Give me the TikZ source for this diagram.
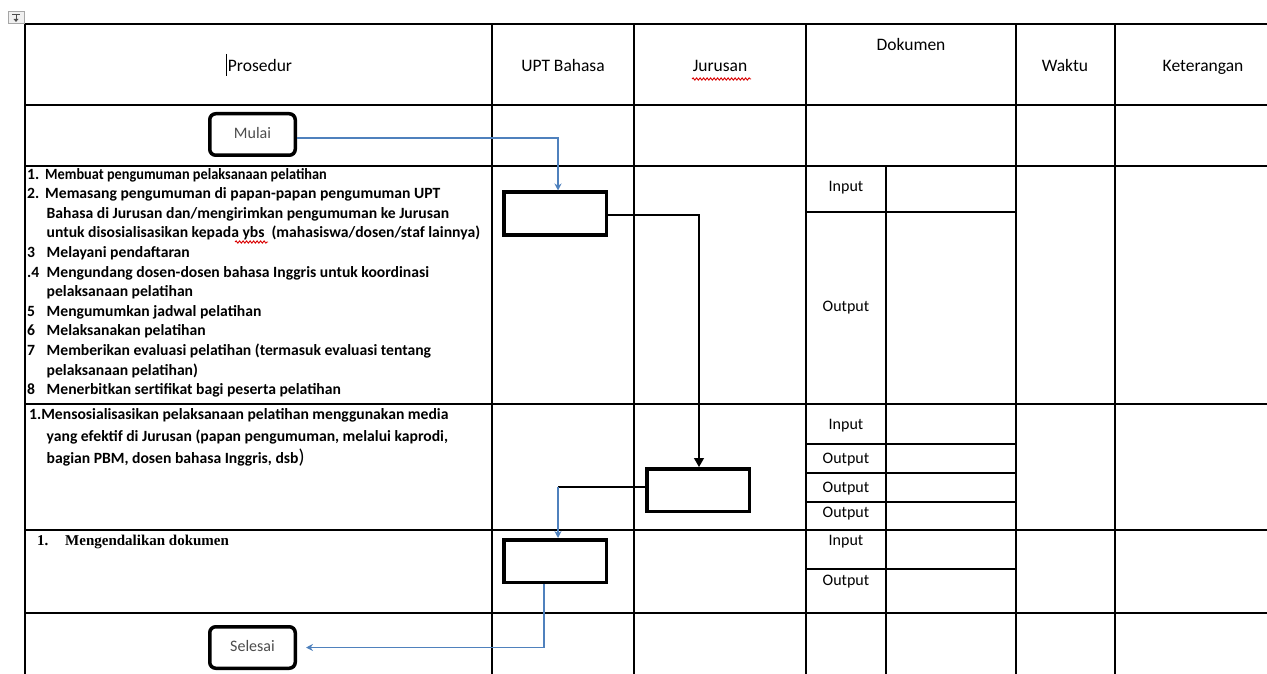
\documentclass[tikz,border=0pt]{standalone}
\usepackage{fontspec}
\setmainfont{Carlito}
\newfontfamily\timesf{Liberation Serif}
\usetikzlibrary{arrows.meta,decorations.pathmorphing}
\definecolor{flowblue}{RGB}{79,129,189}
\begin{document}
\begin{tikzpicture}[x=1pt,y=-1pt,
  gridline/.style={line width=1.4pt,black},
  hdr/.style={font=\fontsize{17.5}{20}\selectfont, inner sep=0pt, anchor=base},
  doclbl/.style={font=\fontsize{16}{18}\selectfont, inner sep=0pt, anchor=base},
  rowtxt/.style={font=\fontsize{15.65}{18}\selectfont\bfseries, inner sep=0pt, anchor=base west},
  sertxt/.style={font=\fontsize{15}{18}\selectfont\timesf\bfseries, inner sep=0pt, anchor=base west},
  termbox/.style={draw, line width=3.5pt, rounded corners=6pt, minimum width=85.5pt, minimum height=41.5pt, inner sep=0pt, text=black!70, font=\fontsize{16}{18}\selectfont},
  procbox/.style={draw, line width=3.5pt, minimum width=102.5pt, minimum height=42.5pt, inner sep=0pt},
  bluearrow/.style={flowblue, line width=1.2pt, -{Stealth[length=7pt,width=7pt]}},
  blackarrow/.style={black, line width=1.2pt, -{Triangle[length=9pt,width=10pt]}},
  blackline/.style={black, line width=1.2pt},
  squiggle/.style={red!85!black, line width=0.9pt, decorate, decoration={snake, amplitude=1.1pt, segment length=3.5pt}},
]
\useasboundingbox (0,0) rectangle (1267,674);
% move handle
\draw[gray!70, fill=gray!12, line width=0.6pt] (8,11) rectangle (24,23);
\draw[black!70, line width=0.8pt] (12,14) -- (20,14);
\draw[black!70, line width=0.8pt] (16,14) -- (16,21);
\fill[black!70] (13.5,19) -- (18.5,19) -- (16,22) -- cycle;

% table grid
\foreach \yy in {24,105,166,404,530,613}
  \draw[gridline] (25,\yy) -- (1267,\yy);
\foreach \xx in {25,492,634,806,1016,1115}
  \draw[gridline] (\xx,24) -- (\xx,674);
\draw[gridline] (886,166) -- (886,674);
\foreach \yy in {212,444,473,502,569}
  \draw[gridline] (806,\yy) -- (1016,\yy);

% header
\node[hdr] (hprosedur) at (260,72) {Prosedur};
\draw[black, line width=1pt] (226.5,54) -- (226.5,76);
\node[hdr] (hupt) at (563,72) {UPT Bahasa};
\node[hdr] (hjurusan) at (720,72) {Jurusan};
\draw[squiggle] (692,79) -- (751,79);
\node[hdr] (hdokumen) at (911,51) {Dokumen};
\node[hdr] (hwaktu) at (1065,72) {Waktu};
\node[hdr] (hket) at (1203,72) {Keterangan};

% row 1 text
\node[rowtxt] (r1a) at (27,179) {1.};
\node[rowtxt] (r1at) at (45,179) {\scalebox{0.914}[1]{Membuat pengumuman pelaksanaan pelatihan}};
\node[rowtxt] (r1b) at (27,198.6) {2.};
\node[rowtxt] (r1bt) at (45,198.6) {Memasang pengumuman di papan-papan pengumuman UPT};
\node[rowtxt] (r1c) at (46.5,218.2) {Bahasa di Jurusan dan/mengirimkan pengumuman ke Jurusan};
\node[rowtxt] (r1d) at (46.5,237.8) {untuk disosialisasikan kepada ybs\ \ (mahasiswa/dosen/staf lainnya)};
\draw[squiggle] (235,242) -- (268,242);
\node[rowtxt] (r1e) at (27,257.4) {3};
\node[rowtxt] (r1et) at (46.5,257.4) {Melayani pendaftaran};
\node[rowtxt] (r1f) at (27,277) {.4};
\node[rowtxt] (r1ft) at (46.5,277) {Mengundang dosen-dosen bahasa Inggris untuk koordinasi};
\node[rowtxt] (r1g) at (46.5,296.6) {pelaksanaan pelatihan};
\node[rowtxt] (r1h) at (27,316.2) {5};
\node[rowtxt] (r1ht) at (46.5,316.2) {Mengumumkan jadwal pelatihan};
\node[rowtxt] (r1i) at (27,335.8) {6};
\node[rowtxt] (r1it) at (46.5,335.8) {Melaksanakan pelatihan};
\node[rowtxt] (r1j) at (27,355.4) {7};
\node[rowtxt] (r1jt) at (46.5,355.4) {Memberikan evaluasi pelatihan (termasuk evaluasi tentang};
\node[rowtxt] (r1k) at (46.5,375) {pelaksanaan pelatihan)};
\node[rowtxt] (r1l) at (27,394.6) {8};
\node[rowtxt] (r1lt) at (46.5,394.6) {Menerbitkan sertifikat bagi peserta pelatihan};

% row 2 text
\node[rowtxt] (r2a) at (29,419) {1.Mensosialisasikan pelaksanaan pelatihan menggunakan media};
\node[rowtxt] (r2b) at (46.5,441) {yang efektif di Jurusan (papan pengumuman, melalui kaprodi,};
\node[rowtxt] (r2c) at (46.5,463) {bagian PBM, dosen bahasa Inggris, dsb{\fontsize{20}{22}\selectfont\mdseries)}};

% row 3 text
\node[sertxt] (r3a) at (37,545) {1.};
\node[sertxt] (r3at) at (65,545) {Mengendalikan dokumen};

% dokumen labels
\node[doclbl] (d1in) at (846,191) {Input};
\node[doclbl] (d1out) at (846,311) {Output};
\node[doclbl] (d2in) at (846,429) {Input};
\node[doclbl] (d2o1) at (846,463) {Output};
\node[doclbl] (d2o2) at (846,492) {Output};
\node[doclbl] (d2o3) at (846,517) {Output};
\node[doclbl] (d3in) at (846,545) {Input};
\node[doclbl] (d3out) at (846,585) {Output};

% flow shapes
\node[termbox] (mulai) at (252.5,134.5) {\raisebox{3pt}{Mulai}};
\node[termbox] (selesai) at (252.5,647.5) {\raisebox{3pt}{Selesai}};
\node[procbox] (p1) at (555,213.5) {};
\node[procbox] (p2) at (698,490) {};
\node[procbox] (p3) at (555,561) {};

% connectors
\draw[bluearrow] ([yshift=-3.5pt]mulai.east) -| ([xshift=3pt]p1.north);
\draw[blackarrow] ([yshift=-1.5pt]p1.east) -| ([xshift=1pt]p2.north);
\coordinate (turn2) at (558,487);
\draw[blackline] ([yshift=3pt]p2.west) -- (turn2);
\draw[bluearrow] (turn2) -- ([xshift=3pt]p3.north);
\draw[bluearrow, shorten >=9pt] ([xshift=-11pt]p3.south) |- (selesai.east);
\end{tikzpicture}
\end{document}
